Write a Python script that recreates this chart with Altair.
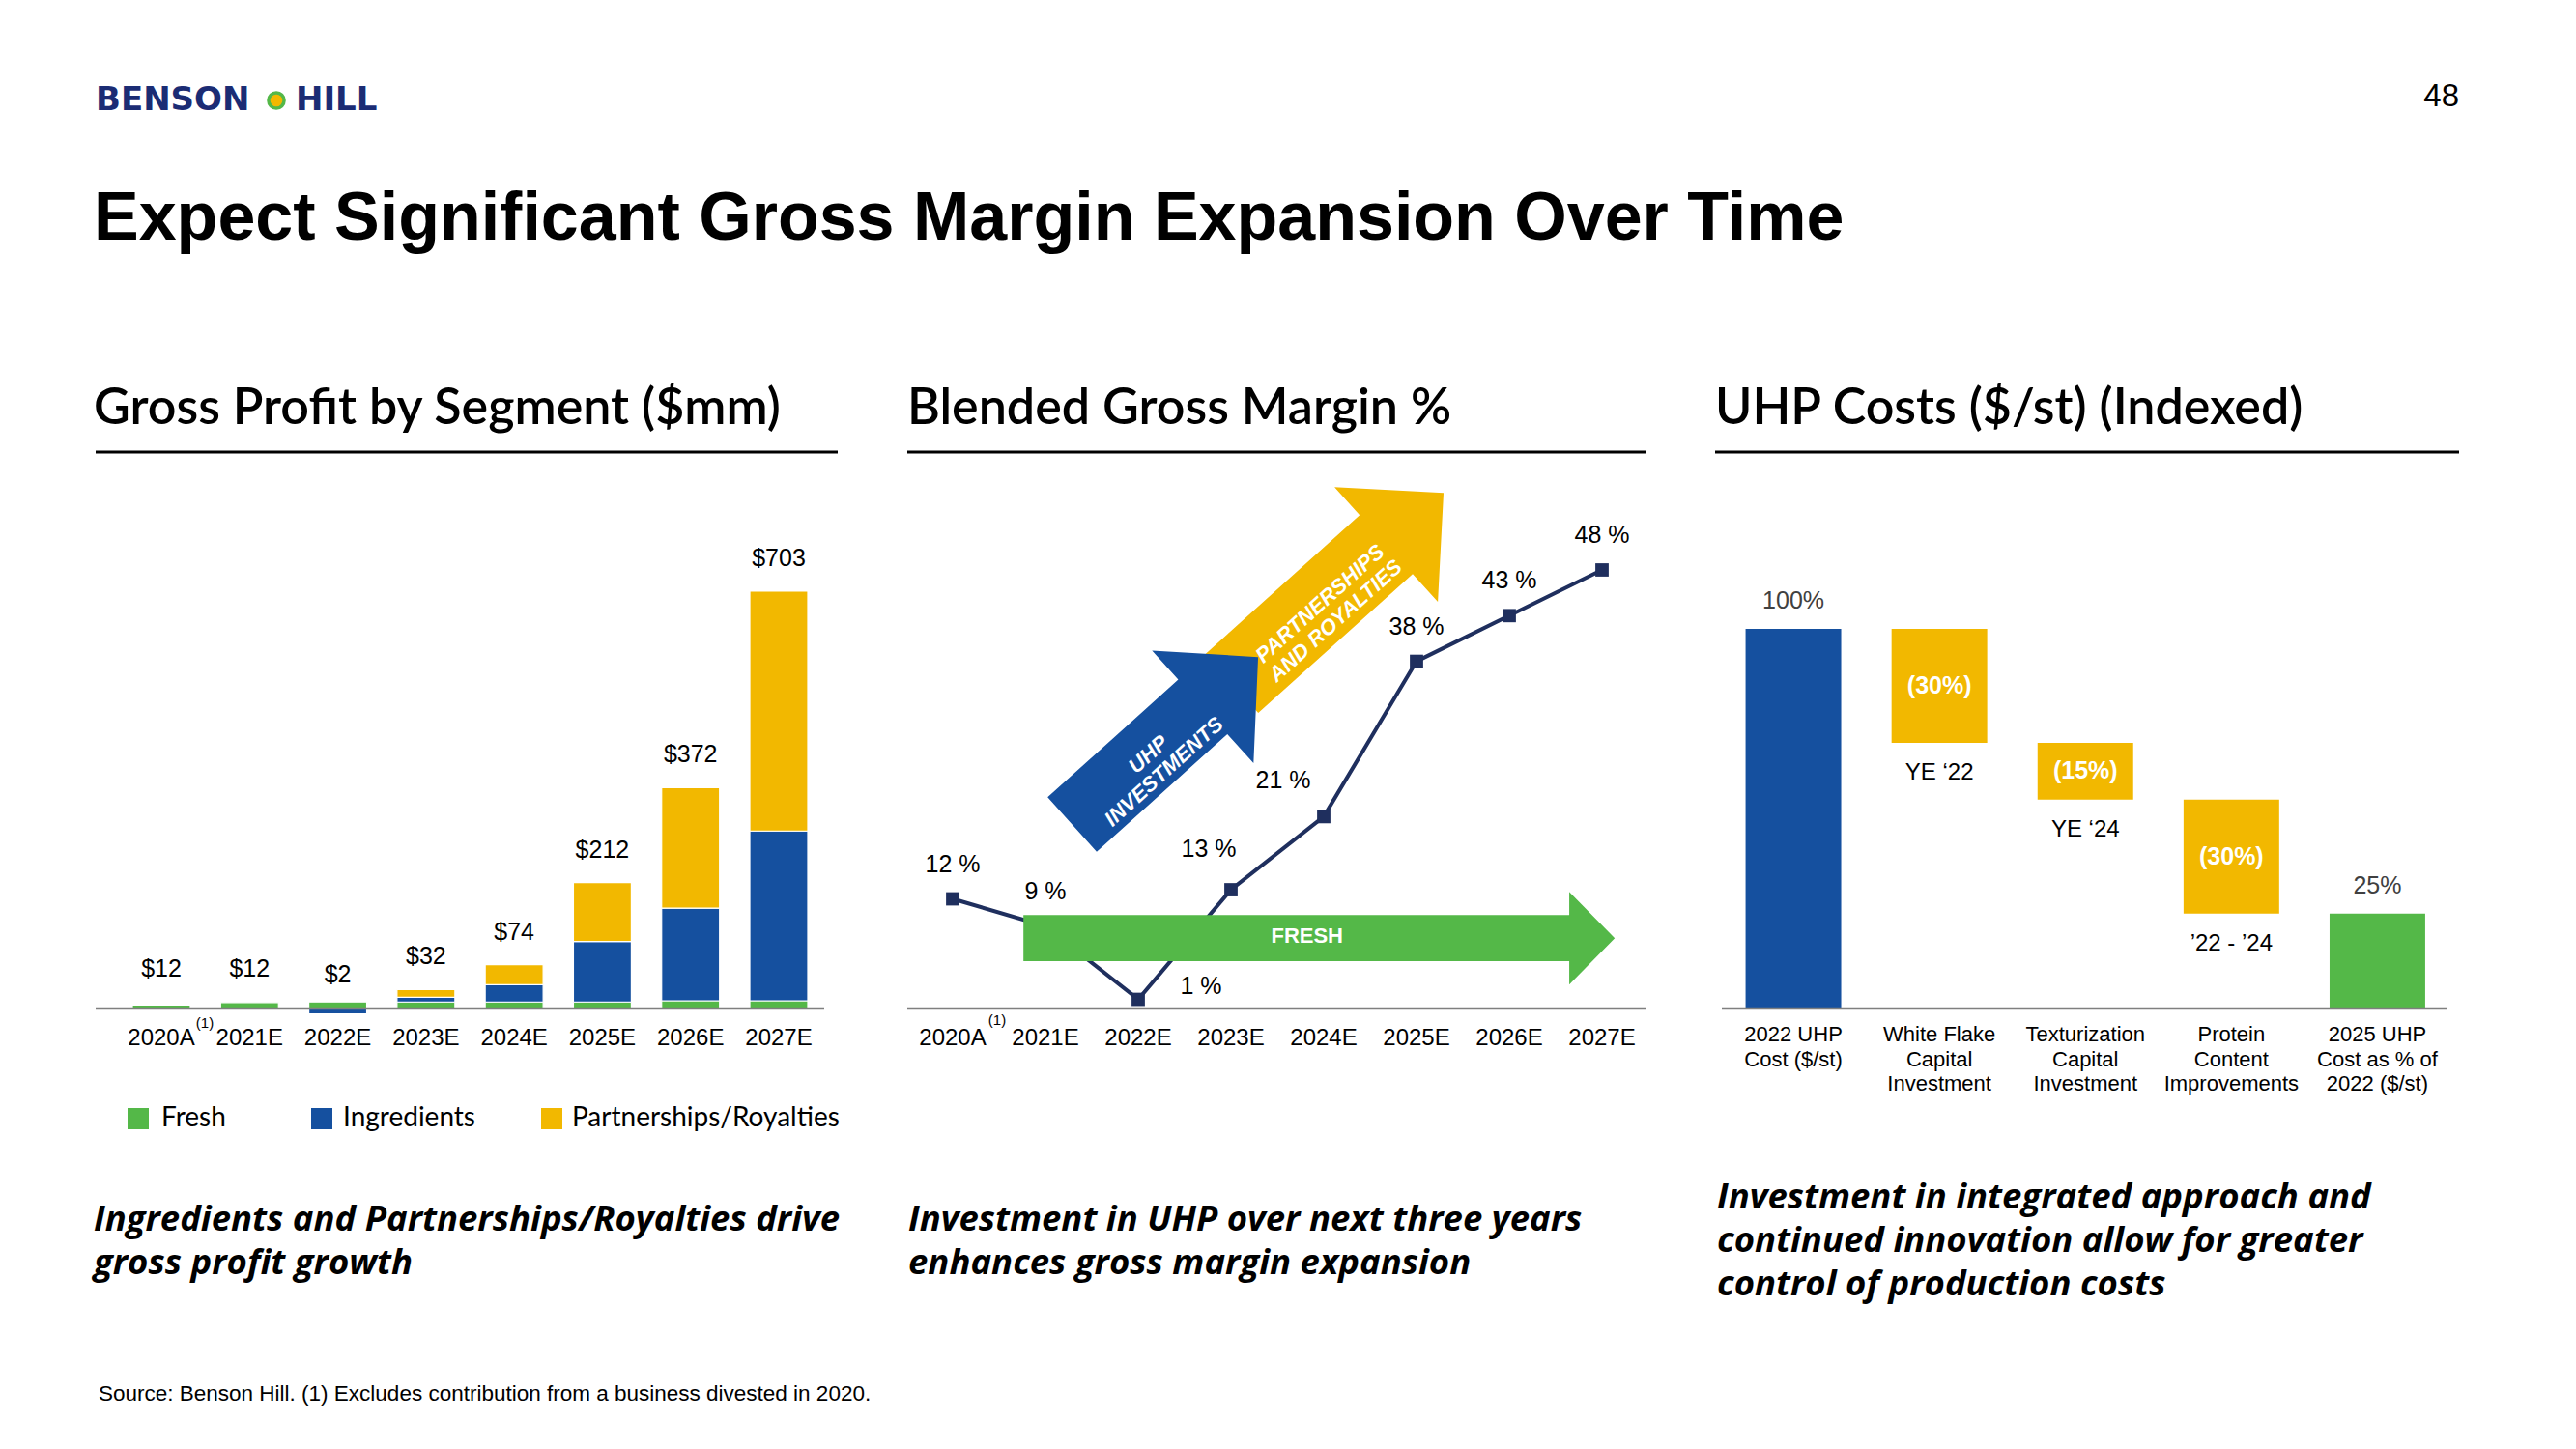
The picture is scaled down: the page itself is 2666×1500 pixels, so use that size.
import altair as alt
import pandas as pd

# ---------------- data ----------------
years = ["2020A", "2021E", "2022E", "2023E", "2024E", "2025E", "2026E", "2027E"]
segments = ["Fresh", "Ingredients", "Partnerships/Royalties"]
fresh = [6, 10, 11, 11, 11, 11, 13, 13]
ingredients = [0, 0, -9, 8, 29, 102, 156, 286]
partnerships = [0, 0, 0, 13, 34, 99, 203, 404]
totals = [12, 12, 2, 32, 74, 212, 372, 703]

margin_pct = [12, 9, 1, 13, 21, 38, 43, 48]

uhp_cats = ["2022 UHP\nCost ($/st)", "White Flake\nCapital\nInvestment",
            "Texturization\nCapital\nInvestment", "Protein\nContent\nImprovements",
            "2025 UHP\nCost as % of\n2022 ($/st)"]
uhp_start = [0, 100, 70, 55, 0]
uhp_end = [100, 70, 55, 25, 25]
uhp_kind = ["start", "step", "step", "step", "end"]
uhp_inside = ["", "(30%)", "(15%)", "(30%)", ""]
uhp_below = ["", "YE \u201822", "YE \u201824", "\u201922 - \u201924", ""]
uhp_top = ["100%", "", "", "", "25%"]

# ---------------- styles ----------------
ARIAL = "Liberation Sans"
LATO = "Lato"
CAPF = "Open Sans"
GREEN = "#54B848"
BLUE = "#15509F"
YELLOW = "#F2B800"
NAVY = "#1F2F5E"
GREY = "#7F7F7F"
seg_colors = [GREEN, BLUE, YELLOW]

ONE = pd.DataFrame({"k": [0]})


def label(text, x, y, size, font=ARIAL, weight="normal", style="normal",
          color="black", align="left", baseline="middle", line_height=None):
    props = dict(text=text, font=font, fontSize=size, fontWeight=weight, fontStyle=style,
                 color=color, align=align, baseline=baseline)
    if line_height is not None:
        props.update(lineBreak="\n", lineHeight=line_height)
    return alt.Chart(ONE).mark_text(**props).encode(x=alt.value(x), y=alt.value(y))


def hline(x0, x1, y, width=3, color="black"):
    return alt.Chart(ONE).mark_rule(color=color, strokeWidth=width).encode(
        x=alt.value(x0), x2=alt.value(x1), y=alt.value(y))


# ---------------- panel 1: stacked bars ----------------
rows = []
for i, yr in enumerate(years):
    for s, vals in enumerate([fresh, ingredients, partnerships]):
        if vals[i] != 0:
            rows.append({"year": yr, "segment": segments[s], "value": vals[i], "order": s})
df1 = pd.DataFrame(rows)
df1t = pd.DataFrame({"year": years, "total": totals,
                     "label": ["$" + str(t) for t in totals]})

X1 = alt.Scale(type="band", domain=years, range=[121.35, 851.65],
               paddingInner=0.343, paddingOuter=0.1715)
Y1 = alt.Scale(domain=[0, 703], range=[1044, 612], nice=False)

p1_bars = alt.Chart(df1).mark_bar(stroke="white", strokeWidth=1.2).encode(
    x=alt.X("year:N", scale=X1, axis=None),
    y=alt.Y("value:Q", scale=Y1, axis=None, stack="zero"),
    color=alt.Color("segment:N", scale=alt.Scale(domain=segments, range=seg_colors), legend=None),
    order=alt.Order("order:Q"),
)
p1_tot = alt.Chart(df1t).mark_text(font=ARIAL, fontSize=25, dy=-34, color="black").encode(
    x=alt.X("year:N", scale=X1, axis=None),
    y=alt.Y("total:Q", scale=Y1, axis=None),
    text="label:N",
)
p1_years = alt.Chart(df1t).mark_text(font=ARIAL, fontSize=24, color="black").encode(
    x=alt.X("year:N", scale=X1, axis=None),
    y=alt.value(1075),
    text="year:N",
)
p1_base = alt.Chart(ONE).mark_rule(color=GREY, strokeWidth=2.5).encode(
    x=alt.value(99), x2=alt.value(853),
    y=alt.YDatum(0, type="quantitative", scale=Y1, axis=None),
)
panel1 = alt.layer(p1_bars, p1_base, p1_tot, p1_years)

# ---------------- panel 2: blended gross margin ----------------
df2 = pd.DataFrame({"idx": list(range(len(years))), "year": years, "pct": margin_pct,
                    "label": [str(v) + " %" for v in margin_pct]})
X2 = alt.Scale(domain=[0, 7], range=[986, 1658], nice=False, zero=False)
Y2 = alt.Scale(domain=[0, 48], range=[1044, 590], nice=False, zero=False)

enc2 = dict(x=alt.X("idx:Q", scale=X2, axis=None), y=alt.Y("pct:Q", scale=Y2, axis=None))
p2_line = alt.Chart(df2).mark_line(color=NAVY, strokeWidth=4).encode(**enc2)
p2_pts = alt.Chart(df2).mark_square(color=NAVY, size=190, opacity=1).encode(**enc2)
p2_lab = alt.Chart(df2).mark_text(font=ARIAL, fontSize=25, dy=-36, color="black").encode(
    text="label:N", **enc2).transform_filter(
    "indexof(['2022E','2023E','2024E'], datum.year) < 0")


def p2_special(yr, dx, dy):
    return alt.Chart(df2).mark_text(font=ARIAL, fontSize=25, dx=dx, dy=dy, color="black").encode(
        text="label:N", **enc2).transform_filter(alt.datum.year == yr)


p2_years = alt.Chart(df2).mark_text(font=ARIAL, fontSize=24, color="black").encode(
    x=alt.X("idx:Q", scale=X2, axis=None), y=alt.value(1075), text="year:N")
p2_base = alt.Chart(ONE).mark_rule(color=GREY, strokeWidth=2.5).encode(
    x=alt.value(939), x2=alt.value(1704),
    y=alt.YDatum(0, type="quantitative", scale=Y2, axis=None),
)

GREEN_ARROW = "M-1,-0.078 L0.846,-0.078 L0.846,-0.157 L1,0 L0.846,0.157 L0.846,0.078 L-1,0.078 Z"
BLUE_ARROW = "M-1,-0.293 L0.405,-0.293 L0.405,-0.606 L1,0 L0.405,0.606 L0.405,0.293 L-1,0.293 Z"
YELLOW_ARROW = "M-1,-0.278 L0.458,-0.278 L0.458,-0.542 L1,0 L0.458,0.542 L0.458,0.278 L-1,0.278 Z"


def arrow(path, size, color, xd, yd, angle=0):
    return alt.Chart(ONE).mark_point(
        shape=path, size=size, filled=True, color=color, opacity=1, strokeWidth=0, angle=angle
    ).encode(x=alt.XDatum(xd, type="quantitative", scale=X2, axis=None),
             y=alt.YDatum(yd, type="quantitative", scale=Y2, axis=None))


def arrow_text(text, xd, yd, angle=0, style="italic", size=22):
    return alt.Chart(ONE).mark_text(
        text=text, font=ARIAL, fontSize=size, fontWeight="bold", fontStyle=style, color="white",
        angle=angle, align="center", baseline="middle", lineBreak="\n", lineHeight=24
    ).encode(x=alt.XDatum(xd, type="quantitative", scale=X2, axis=None),
             y=alt.YDatum(yd, type="quantitative", scale=Y2, axis=None))


panel2 = alt.layer(
    p2_line, p2_pts, p2_lab,
    p2_special("2022E", 65, -14), p2_special("2023E", -23, -42), p2_special("2024E", -42, -37),
    p2_base, p2_years,
    arrow(GREEN_ARROW, 612 ** 2, GREEN, 3.95, 7.7),
    arrow(YELLOW_ARROW, 295 ** 2, YELLOW, 4.15, 46.0, angle=318),
    arrow(BLUE_ARROW, 259 ** 2, BLUE, 2.29, 29.3, angle=318),
    arrow_text("FRESH", 3.82, 7.9, style="normal"),
    arrow_text("UHP\nINVESTMENTS", 2.11, 27.8, angle=318),
    arrow_text("PARTNERSHIPS\nAND ROYALTIES", 3.96, 44.3, angle=318),
)

# ---------------- panel 3: UHP cost waterfall ----------------
df3 = pd.DataFrame({"cat": uhp_cats, "start": uhp_start, "end": uhp_end, "kind": uhp_kind,
                    "inside": uhp_inside, "below": uhp_below, "top": uhp_top})
X3 = alt.Scale(type="band", domain=uhp_cats, range=[1780.5, 2536],
               paddingInner=0.345, paddingOuter=0.1725)
Y3 = alt.Scale(domain=[0, 100], range=[1044, 651], nice=False)
x3 = alt.X("cat:N", scale=X3, axis=None)

p3_bars = alt.Chart(df3).mark_bar().encode(
    x=x3,
    y=alt.Y("start:Q", scale=Y3, axis=None),
    y2="end:Q",
    color=alt.Color("kind:N", scale=alt.Scale(domain=["start", "step", "end"],
                                              range=[BLUE, YELLOW, GREEN]), legend=None),
)
p3_in = alt.Chart(df3).transform_filter("datum.inside != ''").transform_calculate(
    mid="(datum.start + datum.end) / 2").mark_text(
    font=ARIAL, fontSize=25, fontWeight="bold", color="white").encode(
    x=x3, y=alt.Y("mid:Q", scale=Y3, axis=None), text="inside:N")
p3_below = alt.Chart(df3).transform_filter("datum.below != ''").transform_calculate(
    low="min(datum.start, datum.end)").mark_text(
    font=ARIAL, fontSize=24, color="black", dy=31).encode(
    x=x3, y=alt.Y("low:Q", scale=Y3, axis=None), text="below:N")
p3_top = alt.Chart(df3).transform_filter("datum.top != ''").transform_calculate(
    high="max(datum.start, datum.end)").mark_text(
    font=ARIAL, fontSize=25, color="#404040", dy=-29).encode(
    x=x3, y=alt.Y("high:Q", scale=Y3, axis=None), text="top:N")
p3_cats = alt.Chart(df3).mark_text(
    font=ARIAL, fontSize=22, color="black", baseline="top", lineBreak="\n", lineHeight=25.5).encode(
    x=x3, y=alt.value(1061), text="cat:N")
p3_base = alt.Chart(ONE).mark_rule(color=GREY, strokeWidth=2.5).encode(
    x=alt.value(1782), x2=alt.value(2533),
    y=alt.YDatum(0, type="quantitative", scale=Y3, axis=None),
)
panel3 = alt.layer(p3_bars, p3_base, p3_in, p3_below, p3_top, p3_cats)

# ---------------- slide furniture ----------------
cap = dict(font=CAPF, weight="bold", style="italic", size=36.5, baseline="top")
decor = [
    label("BENSON", 99, 104, 34, font="DejaVu Sans", weight="bold", color="#1B2C74"),
    alt.Chart(ONE).mark_circle(size=260, color=YELLOW, stroke=GREEN, strokeWidth=3.5, opacity=1).encode(
        x=alt.value(286), y=alt.value(104)),
    label("HILL", 306, 104, 34, font="DejaVu Sans", weight="bold", color="#1B2C74"),
    label("48", 2545, 100, 33, align="right"),
    label("Expect Significant Gross Margin Expansion Over Time", 97, 248, 70,
          weight="bold", baseline="alphabetic"),
    label("Gross Profit by Segment ($mm)", 97, 439, 52, font=LATO, weight=600, baseline="alphabetic"),
    label("Blended Gross Margin %", 939, 439, 52, font=LATO, weight=600, baseline="alphabetic"),
    label("UHP Costs ($/st) (Indexed)", 1775, 439, 52, font=LATO, weight=600, baseline="alphabetic"),
    hline(99, 867, 468), hline(939, 1704, 468), hline(1775, 2545, 468),
    label("(1)", 212, 1059, 15, align="center"), label("(1)", 1032, 1056, 15, align="center"),
    alt.Chart(ONE).mark_square(size=484, color=GREEN, opacity=1).encode(x=alt.value(143), y=alt.value(1158)),
    alt.Chart(ONE).mark_square(size=484, color=BLUE, opacity=1).encode(x=alt.value(333), y=alt.value(1158)),
    alt.Chart(ONE).mark_square(size=484, color=YELLOW, opacity=1).encode(x=alt.value(571), y=alt.value(1158)),
    label("Fresh", 167, 1158, 28, font=LATO),
    label("Ingredients", 355, 1158, 28, font=LATO),
    label("Partnerships/Royalties", 592, 1158, 28, font=LATO),
    label("Ingredients and Partnerships/Royalties drive\ngross profit growth",
          97, 1245, line_height=45, **cap),
    label("Investment in UHP over next three years\nenhances gross margin expansion",
          940, 1245, line_height=45, **cap),
    label("Investment in integrated approach and\ncontinued innovation allow for greater\n"
          "control of production costs", 1777, 1222, line_height=45, **cap),
    label("Source: Benson Hill. (1) Excludes contribution from a business divested in 2020.",
          102, 1443, 22.5),
]

chart = alt.layer(panel1, panel2, panel3, *decor).resolve_scale(
    x="independent", y="independent", color="independent"
).properties(
    width=2666, height=1500, autosize=alt.AutoSizeParams(type="none"), padding=0,
    background="white",
).configure_view(stroke=None)

chart.save("out.html", embed_options={"renderer": "svg", "actions": False})
